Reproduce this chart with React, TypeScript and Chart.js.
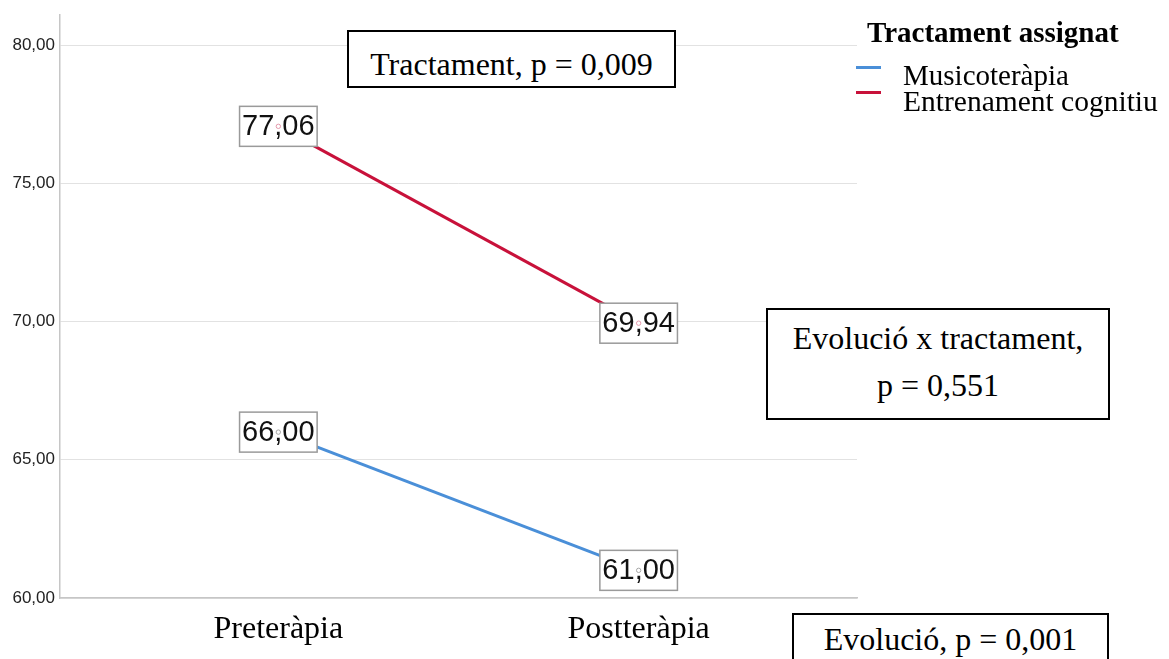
import React, { useEffect, useRef } from 'react';
import { Chart, registerables } from 'chart.js';
Chart.register(...registerables);

const categories = ['Preteràpia', 'Postteràpia'];
const musicoterapia = [66.0, 61.0];
const entrenament = [77.06, 69.94];
const yTicks = [60, 65, 70, 75, 80];
const seriesNames = ['Musicoteràpia', 'Entrenament cognitiu'];
const legendTitle = 'Tractament assignat';
const noteTreatment = 'Tractament, p = 0,009';
const noteInteraction = ['Evolució x tractament,', 'p = 0,551'];
const noteEvolution = 'Evolució, p = 0,001';

const BLUE = '#4a8fd8';
const RED = '#c8113a';
const MARK = ['#a8a8a8', '#e59aac'];

const fmt = (v: number) => v.toFixed(2).replace('.', ',');

const valueBoxes = {
  id: 'valueBoxes',
  afterDatasetsDraw(chart: any) {
    const ctx = chart.ctx;
    ctx.save();
    ctx.font = '29px "Liberation Sans", Arial, sans-serif';
    chart.data.datasets.forEach((ds: any, di: number) => {
      const meta = chart.getDatasetMeta(di);
      meta.data.forEach((pt: any, i: number) => {
        const v = ds.data[i].y;
        const text = fmt(v);
        const tw = ctx.measureText(text).width;
        const w = tw + 5;
        const h = 40;
        const x = pt.x;
        const y = pt.y;
        ctx.fillStyle = '#fff';
        ctx.fillRect(x - w / 2, y - h / 2, w, h);
        ctx.strokeStyle = '#9a9a9a';
        ctx.lineWidth = 1.5;
        ctx.strokeRect(x - w / 2, y - h / 2, w, h);
        ctx.fillStyle = '#111';
        ctx.textAlign = 'center';
        ctx.textBaseline = 'middle';
        ctx.fillText(text, x, y + 1);
        ctx.beginPath();
        ctx.arc(x, y, 2.2, 0, Math.PI * 2);
        ctx.strokeStyle = MARK[di];
        ctx.lineWidth = 1;
        ctx.stroke();
      });
    });
    ctx.restore();
  },
};

const serif = '"Liberation Serif", "Times New Roman", serif';

export default function App() {
  const ref = useRef<HTMLCanvasElement | null>(null);
  useEffect(() => {
    document.body.style.margin = '0';
    const canvas = ref.current!;
    const chart = new Chart(canvas, {
      type: 'line',
      data: {
        datasets: [
          {
            label: seriesNames[0],
            data: musicoterapia.map((y, i) => ({ x: i, y })),
            borderColor: BLUE,
            backgroundColor: BLUE,
            borderWidth: 3,
            pointRadius: 0,
            fill: false,
          },
          {
            label: seriesNames[1],
            data: entrenament.map((y, i) => ({ x: i, y })),
            borderColor: RED,
            backgroundColor: RED,
            borderWidth: 3,
            pointRadius: 0,
            fill: false,
          },
        ],
      },
      options: {
        responsive: false,
        animation: false,
        layout: { padding: { top: 12, right: 312, left: 0, bottom: 0 } },
        plugins: { legend: { display: false }, tooltip: { enabled: false } },
        scales: {
          x: {
            type: 'linear',
            min: -0.606,
            max: 1.606,
            afterBuildTicks: (s: any) => {
              s.ticks = categories.map((_, i) => ({ value: i }));
            },
            afterFit: (s: any) => {
              s.height = 61;
            },
            ticks: {
              callback: (v: any) => categories[v as number],
              font: { family: serif, size: 32 },
              color: '#000',
              padding: 12,
              autoSkip: false,
              maxRotation: 0,
            },
            grid: { display: false, drawTicks: false },
            border: { display: true, color: '#c6c6c6', width: 1.5 },
          },
          y: {
            min: 60,
            max: 81.08,
            afterBuildTicks: (s: any) => {
              s.ticks = yTicks.map((v) => ({ value: v }));
            },
            afterFit: (s: any) => {
              s.width = 60;
            },
            ticks: {
              callback: (v: any) => fmt(Number(v)),
              font: { family: '"Liberation Sans", Arial, sans-serif', size: 17 },
              color: '#222',
              padding: 5,
            },
            grid: { color: '#e2e2e2', lineWidth: 1, drawTicks: false },
            border: { display: true, color: '#c6c6c6', width: 1.5 },
          },
        },
      },
      plugins: [valueBoxes],
    });
    return () => chart.destroy();
  }, []);

  const abs = (s: React.CSSProperties): React.CSSProperties => ({ position: 'absolute', ...s });
  const text = (left: number, top: number, width: number, content: string, extra: React.CSSProperties = {}) => (
    <div
      style={abs({
        left,
        top,
        width,
        textAlign: 'center',
        fontFamily: serif,
        fontSize: 32,
        lineHeight: '32px',
        color: '#000',
        whiteSpace: 'nowrap',
        ...extra,
      })}
    >
      {content}
    </div>
  );

  return (
    <div
      style={{
        position: 'fixed',
        left: 0,
        top: 0,
        width: 1169,
        height: 659,
        overflow: 'hidden',
        background: '#fff',
      }}
    >
      <canvas ref={ref} width={1169} height={659} style={{ position: 'absolute', left: 0, top: 0 }} />

      <div style={abs({ left: 347, top: 30, width: 329, height: 58, border: '2px solid #000', boxSizing: 'border-box', background: '#fff' })} />
      {text(347, 47.5, 329, noteTreatment)}

      <div style={abs({ left: 766, top: 308, width: 344, height: 112, border: '2px solid #000', boxSizing: 'border-box', background: '#fff' })} />
      {text(766, 322, 344, noteInteraction[0])}
      {text(766, 369, 344, noteInteraction[1])}

      <div style={abs({ left: 792, top: 613, width: 317, height: 70, border: '2px solid #000', boxSizing: 'border-box', background: '#fff' })} />
      {text(792, 623, 317, noteEvolution)}

      <div style={abs({ left: 867, top: 18, fontFamily: serif, fontWeight: 'bold', fontSize: 29, lineHeight: '29px', whiteSpace: 'nowrap', color: '#000' })}>
        {legendTitle}
      </div>
      <div style={abs({ left: 856, top: 65.5, width: 25, height: 3, background: BLUE })} />
      <div style={abs({ left: 903, top: 61, fontFamily: serif, fontSize: 29, lineHeight: '29px', whiteSpace: 'nowrap', color: '#000' })}>
        {seriesNames[0]}
      </div>
      <div style={abs({ left: 856, top: 90.5, width: 25, height: 3, background: RED })} />
      <div style={abs({ left: 903, top: 87, fontFamily: serif, fontSize: 29.5, lineHeight: '29px', whiteSpace: 'nowrap', color: '#000' })}>
        {seriesNames[1]}
      </div>
    </div>
  );
}
